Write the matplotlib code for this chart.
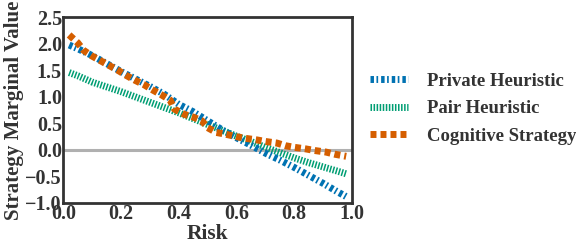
import matplotlib
matplotlib.use("Agg")
import matplotlib.pyplot as plt

risk = [0.02, 0.05, 0.10, 0.15, 0.20, 0.25, 0.30, 0.35, 0.40, 0.45, 0.50, 0.55,
        0.60, 0.65, 0.70, 0.75, 0.80, 0.85, 0.90, 0.95, 0.98]
private_h = [1.98, 1.91, 1.78, 1.63, 1.48, 1.34, 1.20, 1.05, 0.86, 0.72, 0.55, 0.38,
             0.23, 0.09, -0.06, -0.19, -0.33, -0.48, -0.63, -0.79, -0.88]
pair_h = [1.46, 1.40, 1.28, 1.19, 1.10, 1.00, 0.90, 0.80, 0.70, 0.59, 0.48, 0.37,
          0.26, 0.16, 0.05, -0.05, -0.15, -0.24, -0.32, -0.40, -0.45]

risk_cog = [0.02, 0.05, 0.07, 0.10, 0.13, 0.16, 0.19, 0.22, 0.25, 0.28, 0.31, 0.34,
            0.37, 0.385, 0.42, 0.45, 0.48, 0.50, 0.53, 0.56, 0.60, 0.63, 0.67,
            0.70, 0.74, 0.77, 0.80, 0.84, 0.87, 0.91, 0.94, 0.98]
cognitive = [2.17, 2.02, 1.88, 1.77, 1.68, 1.59, 1.50, 1.40, 1.31, 1.23, 1.13, 1.04,
             0.94, 0.77, 0.67, 0.62, 0.55, 0.42, 0.33, 0.30, 0.25, 0.22, 0.19,
             0.16, 0.13, 0.08, 0.05, 0.02, -0.01, -0.04, -0.08, -0.12]

labels = ["Private Heuristic", "Pair Heuristic", "Cognitive Strategy"]
colors = ["#0072B2", "#009E73", "#D55E00"]

plt.rcParams['font.family'] = ['Liberation Serif', 'DejaVu Serif']
plt.rcParams['font.weight'] = 'bold'
plt.rcParams['axes.labelweight'] = 'bold'
text_color = '#333333'

fig = plt.figure(figsize=(5.76, 2.46), dpi=100)
ax = fig.add_axes([0.110, 0.175, 0.501, 0.754])

ax.axhline(0, color='#b0b0b0', lw=2.2, zorder=1)

lw = 5.0
ax.plot(risk, private_h, color=colors[0], lw=lw, dashes=(0.5, 0.36, 0.24, 0.43),
        label=labels[0], zorder=3)
ax.plot(risk, pair_h, color=colors[1], lw=lw, dashes=(0.22, 0.22),
        label=labels[1], zorder=2)
ax.plot(risk_cog, cognitive, color=colors[2], lw=lw, dashes=(0.86, 0.58),
        label=labels[2], zorder=4)

ax.set_xlim(0.0, 1.0)
ax.set_ylim(-1.0, 2.5)
ax.set_xticks([0.0, 0.2, 0.4, 0.6, 0.8, 1.0])
ax.set_yticks([-1.0, -0.5, 0.0, 0.5, 1.0, 1.5, 2.0, 2.5])
ax.tick_params(length=0, labelsize=14.5, colors=text_color, pad=1)
ax.set_xlabel("Risk", fontsize=15.5, color=text_color, labelpad=0)
ax.set_ylabel("Strategy Marginal Value", fontsize=15.0, color=text_color, labelpad=1)
for s in ax.spines.values():
    s.set_color('#333333')
    s.set_linewidth(2.0)

leg = ax.legend(loc='center left', bbox_to_anchor=(1.062, 0.509), frameon=False,
                fontsize=13.5, handlelength=2.03, handletextpad=1.0, labelspacing=0.55,
                borderpad=0, borderaxespad=0)
for t in leg.get_texts():
    t.set_color(text_color)

fig.savefig("out.png", dpi=100)
